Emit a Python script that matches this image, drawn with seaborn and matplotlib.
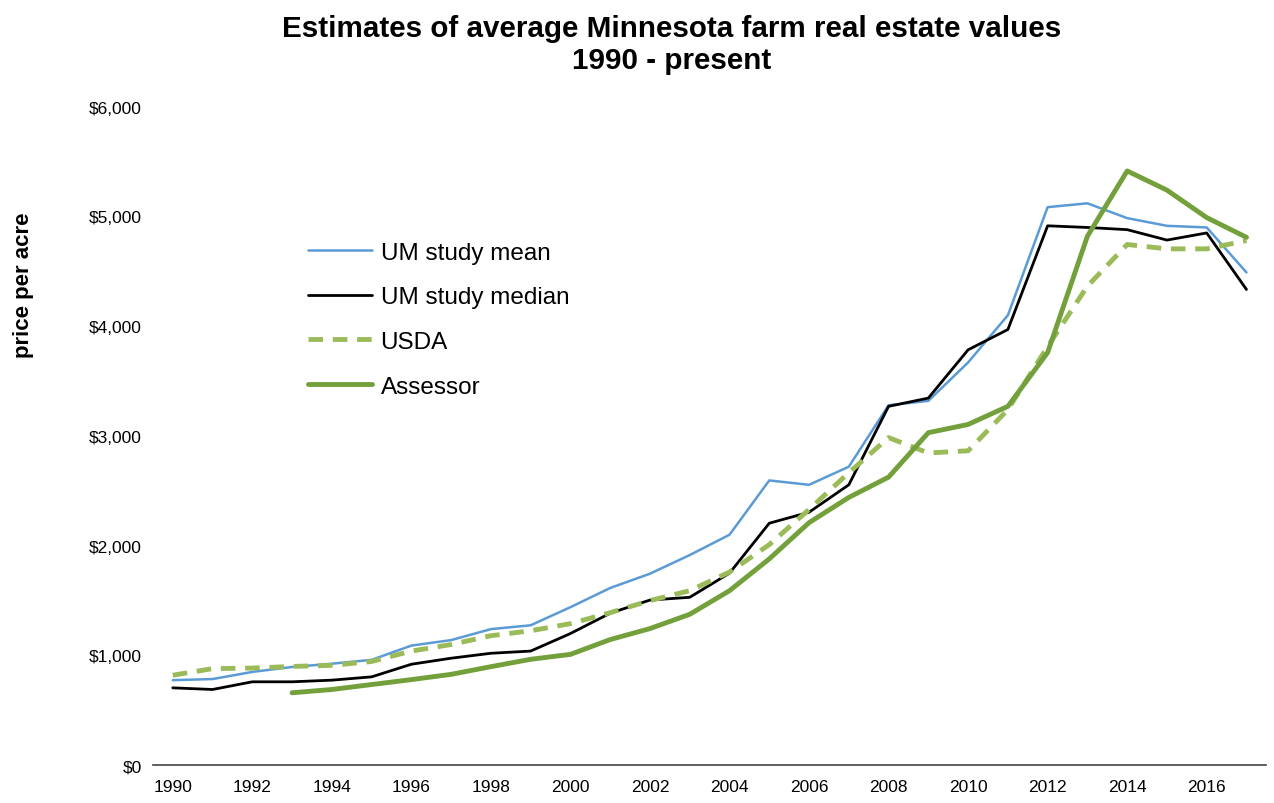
import numpy as np
import pandas as pd
import matplotlib
matplotlib.use("Agg")
import matplotlib.pyplot as plt
import seaborn as sns

# values ($ per acre)
years = list(range(1990, 2018))
um_mean = [775, 785, 850, 895, 925, 960, 1090, 1140, 1240, 1275, 1440, 1615, 1745, 1915, 2100, 2595,
           2555, 2720, 3280, 3320, 3670, 4100, 5085, 5120, 4985, 4915, 4900, 4490]
um_median = [705, 690, 760, 760, 775, 805, 920, 975, 1020, 1040, 1200, 1385, 1505, 1530, 1750, 2205,
             2305, 2555, 3270, 3345, 3785, 3970, 4915, 4900, 4880, 4785, 4850, 4335]
usda = [820, 880, 885, 900, 910, 945, 1040, 1100, 1180, 1225, 1290, 1390, 1500, 1590, 1760, 2010,
        2330, 2665, 2985, 2845, 2865, 3240, 3815, 4365, 4745, 4705, 4705, 4780]
assessor = [np.nan, np.nan, np.nan, 660, 690, 735, 780, 828, 898, 965, 1010, 1145, 1245, 1375, 1590, 1880,
            2210, 2440, 2625, 3030, 3105, 3270, 3760, 4820, 5415, 5240, 4990, 4810]

df = pd.DataFrame({"year": years, "UM study mean": um_mean, "UM study median": um_median,
                   "USDA": usda, "Assessor": assessor})

sns.set_style("white")
plt.rcParams["font.family"] = ["Liberation Sans", "DejaVu Sans"]
plt.rcParams["text.color"] = "black"
plt.rcParams["xtick.color"] = "black"
plt.rcParams["ytick.color"] = "black"
plt.rcParams["axes.labelcolor"] = "black"

fig = plt.figure(figsize=(12.74, 8.04), dpi=100)
ax = fig.add_axes([0.120, 0.047, 0.874, 0.819])

sns.lineplot(data=df, x="year", y="UM study mean", ax=ax, color="#5B9BD5", lw=1.8, label="UM study mean")
sns.lineplot(data=df, x="year", y="UM study median", ax=ax, color="#000000", lw=2.0, label="UM study median")
sns.lineplot(data=df, x="year", y="USDA", ax=ax, color="#9BBB59", lw=3.5, label="USDA",
             dashes=False, linestyle=(0, (3, 2)))
sns.lineplot(data=df, x="year", y="Assessor", ax=ax, color="#73A03B", lw=3.5, label="Assessor")

ax.set_xlim(1989.5, 2017.5)
ax.set_ylim(0, 6000)
ax.set_xticks(range(1990, 2017, 2))
ax.set_xticks(np.arange(1989.5, 2018, 1), minor=True)
ax.tick_params(axis="x", which="major", length=0, labelsize=12.5, pad=10)
ax.tick_params(axis="x", which="minor", length=8, width=1, direction="out", color="#444444")
ax.set_yticks(range(0, 6001, 1000))
ax.set_yticklabels(["${:,}".format(v) for v in range(0, 6001, 1000)])
ax.tick_params(axis="y", length=0, labelsize=12.5, pad=8)

for s in ["top", "right", "left"]:
    ax.spines[s].set_visible(False)
ax.spines["bottom"].set_color("#444444")
ax.spines["bottom"].set_linewidth(1.2)

ax.set_xlabel("")
ax.set_ylabel("price per acre", fontsize=16, fontweight="bold")
ax.yaxis.set_label_coords(-0.107, 0.731)

fig.text(0.527, 0.944, "Estimates of average Minnesota farm real estate values\n1990 - present",
         fontsize=21.3, fontweight="bold", ha="center", va="center", linespacing=1.22)

leg = ax.legend(loc="upper left", bbox_to_anchor=(0.139, 0.795), frameon=False, fontsize=17.5,
                handlelength=2.65, labelspacing=0.93, handletextpad=0.35, borderpad=0, borderaxespad=0)

fig.savefig("out.png", dpi=100)
